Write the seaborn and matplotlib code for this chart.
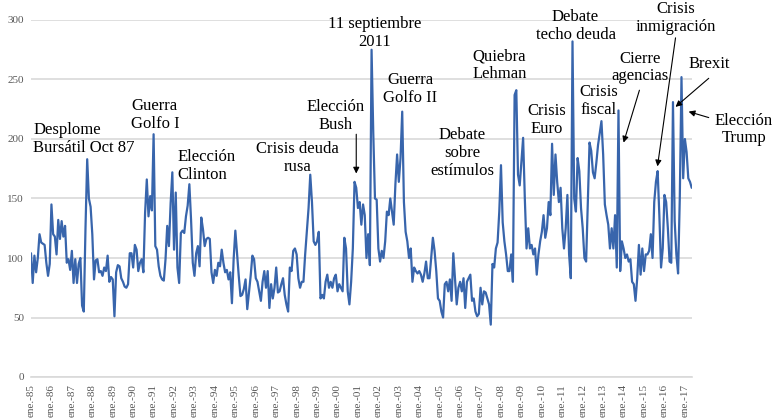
import numpy as np
import matplotlib.pyplot as plt
import pandas as pd
import seaborn as sns

# indice mensual de incertidumbre, ene.-85 a may.-17
y1985 = [104, 79, 102, 88, 100, 120, 113, 112, 111, 96, 85, 95]
y1986 = [145, 120, 118, 103, 132, 116, 131, 118, 127, 96, 99, 90]
y1987 = [106, 79, 99, 79, 95, 100, 60, 55, 125, 183, 150, 143]
y1988 = [120, 82, 98, 99, 88, 89, 85, 92, 89, 102, 80, 84]
y1989 = [82, 51, 88, 94, 93, 83, 80, 76, 75, 78, 104, 104]
y1990 = [92, 111, 107, 89, 96, 99, 88, 138, 166, 135, 152, 140]
y1991 = [204, 110, 107, 93, 85, 82, 81, 99, 127, 110, 146, 172]
y1992 = [107, 155, 92, 79, 121, 123, 121, 135, 144, 162, 132, 96]
y1993 = [85, 104, 110, 93, 134, 124, 110, 116, 117, 116, 88, 79]
y1994 = [90, 85, 96, 93, 107, 96, 88, 90, 82, 88, 62, 99]
y1995 = [123, 104, 85, 68, 69, 74, 82, 57, 71, 85, 102, 99]
y1996 = [83, 80, 72, 64, 80, 89, 75, 89, 58, 78, 66, 75]
y1997 = [92, 71, 72, 78, 83, 69, 61, 55, 92, 89, 106, 108]
y1998 = [103, 83, 75, 80, 80, 103, 122, 142, 170, 147, 114, 111]
y1999 = [114, 122, 66, 69, 66, 80, 86, 75, 80, 75, 83, 86]
y2000 = [72, 78, 75, 72, 117, 108, 72, 61, 80, 108, 164, 159]
y2001 = [142, 147, 128, 145, 136, 100, 120, 94, 275, 205, 150, 149]
y2002 = [108, 97, 106, 100, 114, 139, 136, 150, 139, 128, 162, 187]
y2003 = [164, 184, 223, 147, 122, 114, 100, 108, 80, 92, 89, 87]
y2004 = [89, 86, 80, 87, 97, 83, 83, 100, 117, 106, 89, 66]
y2005 = [64, 55, 50, 78, 80, 72, 82, 64, 104, 83, 61, 75]
y2006 = [80, 72, 83, 58, 80, 83, 86, 64, 66, 55, 51, 53]
y2007 = [75, 61, 72, 71, 66, 61, 44, 95, 92, 108, 113, 139]
y2008 = [178, 130, 114, 103, 89, 89, 103, 80, 237, 241, 170, 161]
y2009 = [181, 201, 150, 108, 125, 108, 111, 103, 108, 86, 103, 114]
y2010 = [122, 136, 117, 125, 147, 136, 196, 153, 187, 164, 147, 159]
y2011 = [125, 108, 125, 153, 103, 83, 282, 150, 139, 184, 173, 142]
y2012 = [125, 100, 97, 147, 197, 190, 172, 167, 180, 195, 205, 215]
y2013 = [187, 145, 136, 128, 108, 125, 108, 136, 92, 224, 89, 114]
y2014 = [108, 100, 103, 97, 99, 80, 78, 64, 83, 111, 86, 108]
y2015 = [89, 103, 103, 106, 120, 100, 147, 164, 173, 136, 92, 108]
y2016 = [153, 147, 125, 97, 96, 231, 131, 103, 87, 150, 252, 167]
y2017 = [200, 189, 167, 164, 159]

years = list(range(1985, 2018))
tick_labels = ["ene.-%02d" % (y % 100) for y in years]

series = (y1985 + y1986 + y1987 + y1988 + y1989 + y1990 + y1991 + y1992 + y1993
          + y1994 + y1995 + y1996 + y1997 + y1998 + y1999 + y2000 + y2001 + y2002
          + y2003 + y2004 + y2005 + y2006 + y2007 + y2008 + y2009 + y2010 + y2011
          + y2012 + y2013 + y2014 + y2015 + y2016 + y2017)
df = pd.DataFrame({'mes': np.arange(len(series)), 'epu': series})

sns.set_style('white')
plt.rcParams['font.family'] = ['Liberation Serif', 'DejaVu Serif']

fig = plt.figure(figsize=(7.76, 4.2), dpi=100)
ax = fig.add_axes([31 / 776, 1 - 377 / 420, 660.7 / 776, 357 / 420])

sns.lineplot(data=df, x='mes', y='epu', ax=ax, color='#3865AC', lw=1.6)

ax.set_xlim(0, len(series) - 1)
ax.set_ylim(0, 300)
ax.set_xticks(np.arange(0, len(series), 12))
ax.set_xticklabels(tick_labels, rotation=90, fontsize=8, color='#595959')
ax.set_yticks(range(0, 301, 50))
ax.set_yticklabels([str(v) for v in range(0, 301, 50)], fontsize=8, color='#595959')
ax.set_xlabel('')
ax.set_ylabel('')
ax.yaxis.grid(True, color='#d9d9d9', lw=1.2)
ax.set_axisbelow(True)
for s in ['top', 'right', 'left']:
    ax.spines[s].set_visible(False)
ax.spines['bottom'].set_color('#d9d9d9')
ax.spines['bottom'].set_linewidth(1.2)
ax.tick_params(axis='x', length=3, color='#d9d9d9', pad=2)
ax.tick_params(axis='y', length=0, pad=5)

fs = 12
# textos sin flecha: (texto, x, y, alineacion)
labels = [
    ("Desplome\nBursátil Oct 87", 1.2, 200, 'left'),
    ("Guerra\nGolfo I", 58.8, 220, 'left'),
    ("Elección\nClinton", 85.8, 177, 'left'),
    ("Crisis deuda\nrusa", 156.6, 184, 'center'),
    ("11 septiembre\n2011", 201.6, 289, 'center'),
    ("Guerra\nGolfo II", 222.8, 242, 'center'),
    ("Debate\nsobre\nestímulos", 253.3, 188, 'center'),
    ("Quiebra\nLehman", 275.1, 262, 'center'),
    ("Crisis\nEuro", 302.7, 216, 'center'),
    ("Debate\ntecho deuda", 319.8, 295, 'center'),
    ("Crisis\nfiscal", 333.3, 232, 'center'),
]
for txt, x, y, ha in labels:
    ax.text(x, y, txt, ha=ha, va='center', fontsize=fs, color='black',
            linespacing=1.15, clip_on=False)

# textos con flecha: (texto, pos texto, inicio flecha, punta flecha)
arrows = [
    ("Elección\nBush", (178.7, 219), (191.0, 204), (191.0, 171)),
    ("Cierre\nagencias", (357.4, 260), (357.3, 241), (348.0, 197)),
    ("Crisis\ninmigración", (378.5, 302), (378.5, 285), (367.9, 177)),
    ("Brexit", (398.5, 263), (398.0, 251), (378.5, 227)),
    ("Elección\nTrump", (418.5, 208), (398.0, 218), (386.2, 223)),
]
for txt, tpos, start, tip in arrows:
    ax.text(tpos[0], tpos[1], txt, ha='center', va='center', fontsize=fs,
            color='black', linespacing=1.15, clip_on=False)
    ax.annotate('', xy=tip, xytext=start, annotation_clip=False,
                arrowprops=dict(arrowstyle='-|>', color='black', lw=0.8,
                                mutation_scale=9, shrinkA=0, shrinkB=0))

fig.savefig('out.png', dpi=100)
